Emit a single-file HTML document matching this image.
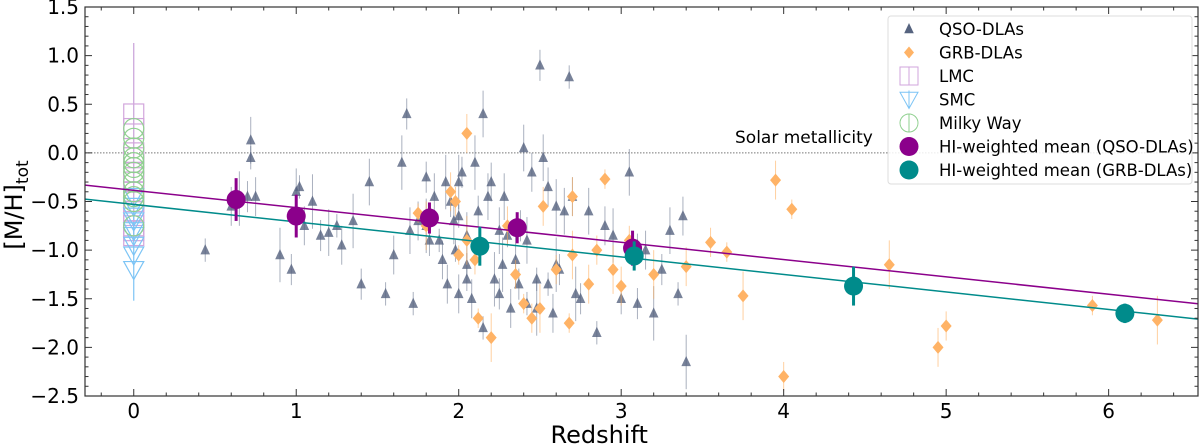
<!DOCTYPE html>
<html><head><meta charset="utf-8"><style>
body{margin:0;background:#fff;font-family:"DejaVu Sans","Liberation Sans",sans-serif}
svg text{font-family:"DejaVu Sans","Liberation Sans",sans-serif}
</style></head><body>
<svg id="c" width="1200" height="444" viewBox="0 0 1200 444" xmlns="http://www.w3.org/2000/svg"></svg>
<script>
const qsoZ=[0.44,0.6,0.65,0.7,0.72,0.72,0.75,0.9,0.97,1.0,1.02,1.05,1.1,1.15,1.2,1.25,1.28,1.35,1.4,1.45,1.55,1.6,1.65,1.68,1.7,1.72,1.75,1.8,1.8,1.85,1.88,1.9,1.92,1.95,1.97,1.98,2.0,2.0,2.02,2.05,2.05,2.08,2.1,2.12,2.15,2.15,2.2,2.22,2.25,2.28,2.3,2.32,2.35,2.38,2.4,2.42,2.45,2.48,2.5,2.52,2.55,2.58,2.6,2.62,2.65,2.68,2.7,2.72,2.75,2.8,2.85,2.9,2.95,3.0,3.05,3.1,3.15,3.2,3.25,3.3,3.35,3.38,3.4,1.82,2.18,2.05,1.93,2.27,2.37,2.42,2.48,2.55,2.6,3.1,2.25,2.0];
const qsoM=[-1.0,-0.55,-0.47,-0.45,0.13,-0.05,-0.45,-1.05,-1.2,-0.4,-0.35,-0.75,-0.5,-0.85,-0.82,-0.75,-0.95,-0.7,-1.35,-0.3,-1.45,-1.05,-0.1,0.4,-0.8,-1.55,-0.7,-0.75,-0.25,-0.45,-0.9,-1.1,-0.3,-0.5,-0.7,-1.0,-1.45,-0.3,-0.2,-0.85,-1.3,-1.5,-0.1,-0.6,0.4,-1.8,-0.3,-1.3,-1.45,-0.45,-0.85,-1.6,-1.1,-0.75,0.05,-1.55,-0.2,-1.6,0.9,-0.05,-1.35,-1.65,-0.55,-1.2,-0.6,0.78,-0.45,-1.45,-1.5,-0.6,-1.85,-0.75,-0.85,-1.5,-0.2,-0.95,-1.0,-1.65,-1.2,-0.8,-1.45,-0.65,-2.15,-0.9,-0.45,-1.15,-1.35,-1.15,-1.35,-0.9,-1.3,-0.35,-1.15,-1.55,-0.8,-0.65];
const grbZ=[1.75,1.8,1.95,1.98,2.0,2.05,2.05,2.1,2.12,2.2,2.3,2.35,2.4,2.5,2.52,2.6,2.68,2.7,2.8,2.85,2.9,2.95,3.0,3.05,3.1,3.2,3.4,3.55,3.65,3.75,3.95,4.0,4.05,4.65,4.95,5.0,5.9,6.3,2.7,2.45];
const grbM=[-0.62,-0.75,-0.4,-0.5,-1.05,-0.9,0.2,-1.1,-1.7,-1.9,-0.75,-1.25,-1.55,-1.6,-0.55,-1.2,-1.75,-1.05,-1.35,-1.0,-0.27,-1.2,-1.37,-0.9,-1.05,-1.25,-1.17,-0.92,-1.02,-1.47,-0.28,-2.3,-0.58,-1.15,-2.0,-1.78,-1.57,-1.72,-0.45,-1.7];
const lmcM=[0.4,0.25,0.0,-0.05,-0.2,-0.3,-0.4,-0.5,-0.6,-0.75,-0.8,-0.85];
const smcM=[-0.45,-0.55,-0.65,-0.7,-0.8,-0.85,-0.95,-1.05,-1.2];
const mwM=[0.25,0.15,0.05,-0.05,-0.1,-0.15,-0.2,-0.3,-0.4,-0.45,-0.5,-0.75];
const meanQZ=[0.63,1.0,1.82,2.36,3.07], meanQM=[-0.48,-0.65,-0.67,-0.77,-0.98], meanQE=[0.22,0.22,0.16,0.16,0.18];
const meanGZ=[2.13,3.08,4.43,6.1], meanGM=[-0.96,-1.06,-1.37,-1.65], meanGE=[0.2,0.15,0.2,0.1];
const fitQ=[-0.385,-0.178], fitG=[-0.53,-0.18]; // intercept, slope
const xTicks=[0,1,2,3,4,5,6], yTicks=[1.5,1.0,0.5,0.0,-0.5,-1.0,-1.5,-2.0,-2.5];
const yTickLabels=["1.5","1.0","0.5","0.0","\u22120.5","\u22121.0","\u22121.5","\u22122.0","\u22122.5"];

const L=85,R=1198,T=7,B=396,x0=-0.30,x1=6.55,y0=-2.5,y1=1.5;
const X=v=>L+(v-x0)/(x1-x0)*(R-L), Y=v=>B-(v-y0)/(y1-y0)*(B-T);
const svg=document.getElementById('c'), NS='http://www.w3.org/2000/svg';
function mk(tag,a,p){const e=document.createElementNS(NS,tag);for(const k in a)e.setAttribute(k,a[k]);(p||svg).appendChild(e);return e;}
const clip=mk('clipPath',{id:'cp'});mk('rect',{x:L,y:T,width:R-L,height:B-T},clip);
const plot=mk('g',{'clip-path':'url(#cp)'});


const sl=mk('line',{x1:L,x2:R,y1:Y(0),y2:Y(0),stroke:'#777',"stroke-width":1,"stroke-dasharray":"1.5,1.5"},plot);


function tri(g,cx,cy,s,fill,stroke,down){const h=s;const pts=down?`${cx-h},${cy-h*0.8} ${cx+h},${cy-h*0.8} ${cx},${cy+h}`:`${cx},${cy-h} ${cx-h*0.8},${cy+h*0.7} ${cx+h*0.8},${cy+h*0.7}`;return mk('polygon',{points:pts,fill:fill,stroke:stroke},g);}
const gq=mk('g',{},plot);


qsoZ.forEach((z,i)=>{const e=0.12+((i*7)%5)*0.04;
 mk('line',{x1:X(z),x2:X(z),y1:Y(qsoM[i]+e),y2:Y(qsoM[i]-e),stroke:'#56637f','stroke-width':1,opacity:0.5},gq);
 const p=tri(gq,X(z),Y(qsoM[i]),6,'#56637f','none');p.setAttribute('opacity','0.8');
 
 });
const gg=mk('g',{},plot);


grbZ.forEach((z,i)=>{const e=0.1+((i*3)%4)*0.05;const cx=X(z),cy=Y(grbM[i]);
 mk('line',{x1:cx,x2:cx,y1:Y(grbM[i]+e),y2:Y(grbM[i]-e),stroke:'#ffb060','stroke-width':1,opacity:0.6},gg);
 const p=mk('polygon',{points:`${cx},${cy-6.5} ${cx+5.5},${cy} ${cx},${cy+6.5} ${cx-5.5},${cy}`,fill:'#ffb366'},gg);
 
 });
const gl=mk('g',{},plot);


const cx0=X(0);
mk('line',{x1:cx0,x2:cx0,y1:Y(1.13),y2:Y(-0.9),stroke:'#c9a0d8','stroke-width':1.2},gl);
mk('line',{x1:cx0,x2:cx0,y1:Y(-0.6),y2:Y(-1.52),stroke:'#7cc4f5','stroke-width':1.2},gl);
lmcM.forEach(m=>{const r=mk('rect',{x:cx0-10,y:Y(m)-10,width:20,height:20,fill:'none',stroke:'#d2a6dc','stroke-width':1.2},gl);
 
 });
smcM.forEach(m=>{const p=tri(gl,cx0,Y(m),10,'none','#7cc4f5',true);p.setAttribute('stroke-width','1.2');
 
 });
mwM.forEach(m=>{const c=mk('circle',{cx:cx0,cy:Y(m),r:10,fill:'none',stroke:'#8fd08f','stroke-width':1.2},gl);
 
 });
const fq=mk('line',{x1:X(x0),y1:Y(fitQ[0]+fitQ[1]*x0),x2:X(x1),y2:Y(fitQ[0]+fitQ[1]*x1),stroke:'#8b008b','stroke-width':1.5},plot);


const fg=mk('line',{x1:X(x0),y1:Y(fitG[0]+fitG[1]*x0),x2:X(x1),y2:Y(fitG[0]+fitG[1]*x1),stroke:'#008b8b','stroke-width':1.5},plot);


function means(zs,ms,es,col,nm){zs.forEach((z,i)=>{mk('line',{x1:X(z),x2:X(z),y1:Y(ms[i]+es[i]),y2:Y(ms[i]-es[i]),stroke:col,'stroke-width':3},plot);
 const c=mk('circle',{cx:X(z),cy:Y(ms[i]),r:9.5,fill:col},plot);
 
 });}
means(meanQZ,meanQM,meanQE,'#8b008b','qso-mean-point');
means(meanGZ,meanGM,meanGE,'#008b8b','grb-mean-point');
const st=mk('text',{x:735,y:143,'font-size':17,fill:'#000'});st.textContent='Solar metallicity';


const fr=mk('rect',{x:L,y:T,width:R-L,height:B-T,fill:'none',stroke:'#333','stroke-width':1.2});


for(let v=-0.2;v<=6.5;v+=0.2){const x=X(v);const maj=Math.abs(v-Math.round(v))<1e-6;const l=maj?7:3.5;
 mk('line',{x1:x,x2:x,y1:B,y2:B-l,stroke:'#333'});mk('line',{x1:x,x2:x,y1:T,y2:T+l,stroke:'#333'});}
for(let k=-25;k<=15;k++){const v=k/10,y=Y(v);const maj=k%5===0;const l=maj?7:3.5;
 mk('line',{x1:L,x2:L+l,y1:y,y2:y,stroke:'#333'});mk('line',{x1:R,x2:R-l,y1:y,y2:y,stroke:'#333'});}
xTicks.forEach(v=>{const t=mk('text',{x:X(v),y:418,'font-size':20,'text-anchor':'middle'});t.textContent=String(v);
 
 });
yTicks.forEach((v,i)=>{const t=mk('text',{x:79,y:Y(v)+7,'font-size':20,'text-anchor':'end'});t.textContent=yTickLabels[i];
 
 });
const xt=mk('text',{x:X(3)-22,y:443,'font-size':24,'text-anchor':'middle'});xt.textContent='Redshift';


const yt=mk('text',{transform:'translate(22,205) rotate(-90)','font-size':24,'text-anchor':'middle'});
yt.innerHTML='[M/H]<tspan font-size="17" dy="6">tot</tspan>';


const lg=mk('g',{});


mk('rect',{x:888,y:16,width:304,height:168,rx:3,fill:'#fff','fill-opacity':0.85,stroke:'#ddd'},lg);
const labs=['QSO-DLAs','GRB-DLAs','LMC','SMC','Milky Way','HI-weighted mean (QSO-DLAs)','HI-weighted mean (GRB-DLAs)'];
labs.forEach((s,i)=>{const y=29+i*23.5,mx=909;
 if(i===0)tri(lg,mx,y,6,'#56637f','none');
 if(i===1)mk('polygon',{points:`${mx},${y-6} ${mx+5},${y} ${mx},${y+6} ${mx-5},${y}`,fill:'#ffb366'},lg);
 if(i===2){mk('rect',{x:mx-9,y:y-9,width:18,height:18,fill:'none',stroke:'#d2a6dc'},lg);mk('line',{x1:mx,x2:mx,y1:y-9,y2:y+9,stroke:'#d2a6dc'},lg);}
 if(i===3){tri(lg,mx,y,9,'none','#7cc4f5',true);mk('line',{x1:mx,x2:mx,y1:y-9,y2:y+9,stroke:'#7cc4f5'},lg);}
 if(i===4){mk('circle',{cx:mx,cy:y,r:9,fill:'none',stroke:'#8fd08f'},lg);mk('line',{x1:mx,x2:mx,y1:y-9,y2:y+9,stroke:'#8fd08f'},lg);}
 if(i===5)mk('circle',{cx:mx,cy:y,r:9.5,fill:'#8b008b'},lg);
 if(i===6)mk('circle',{cx:mx,cy:y,r:9.5,fill:'#008b8b'},lg);
 const t=mk('text',{x:939,y:y+6,'font-size':16.5},lg);t.textContent=s;
 
 });
</script>
</body></html>
